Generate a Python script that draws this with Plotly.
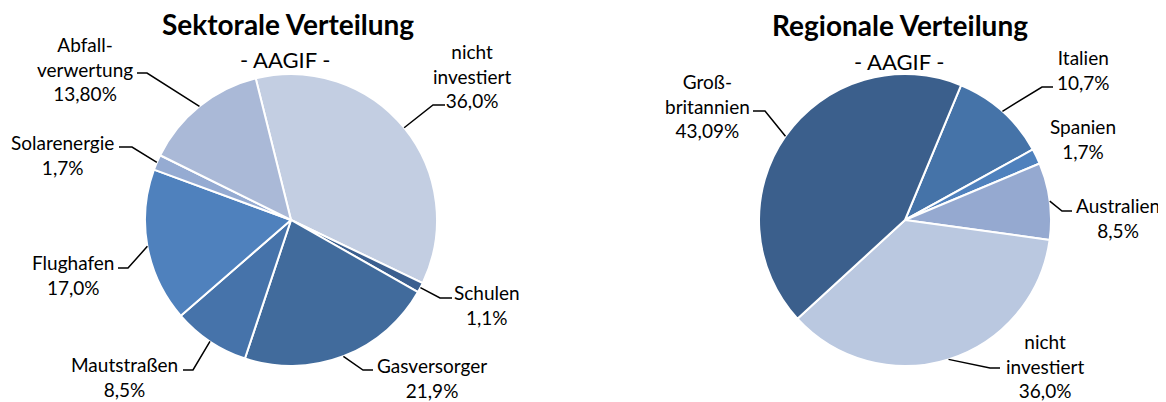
import math
import plotly.graph_objects as go

# ---------------- data ----------------
sekt_labels = ["nicht<br>investiert", "Schulen", "Gasversorger", "Mautstraßen",
               "Flughafen", "Solarenergie", "Abfall-<br>verwertung"]
sekt_values = [36.0, 1.1, 21.9, 8.5, 17.0, 1.7, 13.8]
sekt_decimals = [1, 1, 1, 1, 1, 1, 2]

reg_labels = ["Italien", "Spanien", "Australien", "nicht<br>investiert", "Groß-<br>britannien"]
reg_values = [10.7, 1.7, 8.5, 36.0, 43.09]
reg_decimals = [1, 1, 1, 1, 2]

# ---------------- styling / layout ----------------
WIN_W, WIN_H = 1166, 402
OFF = 8                      # default page body margin
W, H = WIN_W - OFF, WIN_H - OFF
FONT = "Lato"
R = 146

sekt_colors = ["#C3CEE2", "#3B5F8F", "#416B9C", "#4673AA", "#4F81BD", "#95ABD2", "#AAB9D7"]
reg_colors = ["#4573A8", "#4F81BD", "#95A9D0", "#BAC8E0", "#3B5F8C"]

pies = [
    dict(labels=sekt_labels, values=sekt_values, dec=sekt_decimals, colors=sekt_colors,
         cx=291, cy=220, rot=-14.0,
         title="Sektorale Verteilung", title_pos=(288, 24), sub_pos=(285, 60),
         # label centre, elbow point, end point (window pixels); None = no leader line
         lab=[((472, 76), (433, 105), (445, 105)),
              ((487, 305), (440, 298), (452, 298)),
              ((432, 378), (363, 370), (373, 370)),
              ((124, 377), (193, 370), (183, 370)),
              ((73, 275), (128, 268), (118, 268)),
              ((62, 155), (132, 147), (119, 147)),
              ((85, 69), (147, 73), (137, 73))]),
    dict(labels=reg_labels, values=reg_values, dec=reg_decimals, colors=reg_colors,
         cx=905, cy=220, rot=22.6,
         title="Regionale Verteilung", title_pos=(900, 25), sub_pos=(899, 61),
         lab=[((1083, 70), (1042, 87), (1053, 87)),
              ((1083, 139), None, None),
              ((1118, 218), (1062, 211), (1072, 211)),
              ((1045, 366), (990, 368), (1000, 368)),
              ((707, 106), (765, 111), (753, 111))]),
]


def px(x):
    return (x - OFF) / W


def py(y):
    return 1 - (y - OFF) / H


fig = go.Figure()
annotations = []
shapes = []

for p in pies:
    cx, cy = p["cx"], p["cy"]
    fig.add_trace(go.Pie(
        labels=p["labels"], values=p["values"], sort=False, direction="clockwise",
        rotation=p["rot"], textinfo="none", hoverinfo="label+percent",
        marker=dict(colors=p["colors"], line=dict(color="white", width=2)),
        domain=dict(x=[px(cx - R), px(cx + R)], y=[py(cy + R), py(cy - R)]),
        showlegend=False,
    ))
    annotations.append(dict(x=px(p["title_pos"][0]), y=py(p["title_pos"][1]),
                            xref="paper", yref="paper", showarrow=False,
                            text="<b>" + p["title"] + "</b>",
                            font=dict(family=FONT, size=28, color="black"),
                            xanchor="center", yanchor="middle"))
    annotations.append(dict(x=px(p["sub_pos"][0]), y=py(p["sub_pos"][1]),
                            xref="paper", yref="paper", showarrow=False,
                            text="- AAGIF -",
                            font=dict(family=FONT, size=22, color="black"),
                            xanchor="center", yanchor="middle"))
    total = sum(p["values"])
    cum = 0.0
    for name, v, d, (lc, elbow, end) in zip(p["labels"], p["values"], p["dec"], p["lab"]):
        mid = math.radians(p["rot"] + (cum + v / 2) / total * 360)
        cum += v
        sx = cx + R * math.sin(mid)
        sy = cy - R * math.cos(mid)
        txt = name + "<br>" + f"{v:.{d}f}".replace(".", ",") + "%"
        annotations.append(dict(x=px(lc[0]), y=py(lc[1]), xref="paper", yref="paper",
                                showarrow=False, text=txt, align="center",
                                font=dict(family=FONT, size=19, color="black"),
                                xanchor="center", yanchor="middle"))
        if elbow is not None:
            path = (f"M {px(sx)},{py(sy)} L {px(elbow[0])},{py(elbow[1])} "
                    f"L {px(end[0])},{py(end[1])}")
            shapes.append(dict(type="path", xref="paper", yref="paper", path=path,
                               line=dict(color="black", width=1.5)))

fig.update_layout(
    width=W, height=H, margin=dict(l=0, r=0, t=0, b=0),
    paper_bgcolor="white", plot_bgcolor="white",
    annotations=annotations, shapes=shapes,
    font=dict(family=FONT),
)

fig.write_html("out.html")
